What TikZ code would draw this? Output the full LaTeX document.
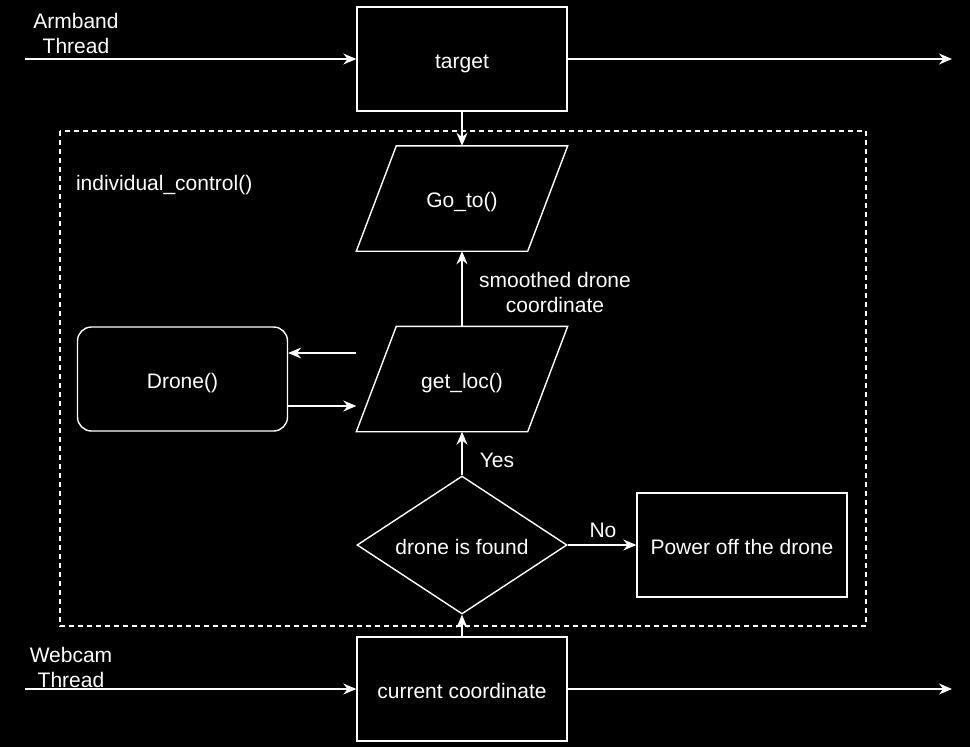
\documentclass[tikz,border=0pt]{standalone}
\usepackage{fontspec}
\setmainfont{Liberation Sans}
\usetikzlibrary{shapes.geometric,arrows.meta}
\begin{document}
\begin{tikzpicture}[x=1pt,y=-1pt,
 line width=1.4pt,
 every node/.style={text=white, font=\fontsize{21}{25}\selectfont},
 ctext/.style={text height=19pt, text depth=1pt},
 box/.style={draw=white, minimum width=210pt, minimum height=104pt, inner sep=0pt, ctext},
 para/.style={minimum width=210pt, minimum height=104pt, inner sep=0pt, ctext},
 arr/.style={draw=white, -{Stealth[length=13pt,width=11pt]}},
 lbl/.style={align=center}]
\fill[black] (0,0) rectangle (970,747);
\useasboundingbox (0,0) rectangle (970,747);

\draw[white, dash pattern=on 5pt off 4pt, line width=1.3pt] (60,131) rectangle (866,626);
\node[anchor=west] (ic) at (72,185) {individual\_control()};

\node[box] (target) at (462,59) {target};
\node[box] (cur) at (462,689) {current coordinate};
\node[box] (power) at (742,545) {Power off the drone};
\node[box, rounded corners=14pt] (drone) at (182.5,379) {Drone()};

\node[para] (goto) at (462,198.5) {Go\_to()};
\draw[white] ([xshift=40pt]goto.north west) -- (goto.north east) -- ([xshift=-40pt]goto.south east) -- (goto.south west) -- cycle;
\node[para] (getloc) at (462,379) {get\_loc()};
\draw[white] ([xshift=40pt]getloc.north west) -- (getloc.north east) -- ([xshift=-40pt]getloc.south east) -- (getloc.south west) -- cycle;

\node[diamond, draw=white, minimum width=210pt, minimum height=138pt, inner sep=0pt, aspect=1.52, ctext] (found) at (462,545) {drone is found};

\coordinate (ain) at (25,59);
\coordinate (aout) at (952,59);
\coordinate (win) at (25,689);
\coordinate (wout) at (952,689);

\draw[arr] (ain) -- (target.west);
\draw[arr] (target.east) -- (aout);
\draw[arr] (target.south) -- (goto.north);
\draw[arr] (getloc.north) -- (goto.south);
\draw[arr] ([yshift=26pt]getloc.west) -- ([yshift=26pt]drone.east);
\draw[arr] ([yshift=-27pt]drone.east) -- ([yshift=-27pt]getloc.west);
\draw[arr] (found.north) -- (getloc.south);
\draw[arr] (found.east) -- (power.west);
\draw[arr] (cur.north) -- (found.south);
\draw[arr] (win) -- (cur.west);
\draw[arr] (cur.east) -- (wout);

\node[lbl] (albl) at (76,33) {Armband\\Thread};
\node[lbl] (wlbl) at (71,667) {Webcam\\Thread};
\node[lbl] (slbl) at (555,292) {smoothed drone\\coordinate};
\node (yes) at (497,460) {Yes};
\node (no) at (603,530) {No};
\end{tikzpicture}
\end{document}
